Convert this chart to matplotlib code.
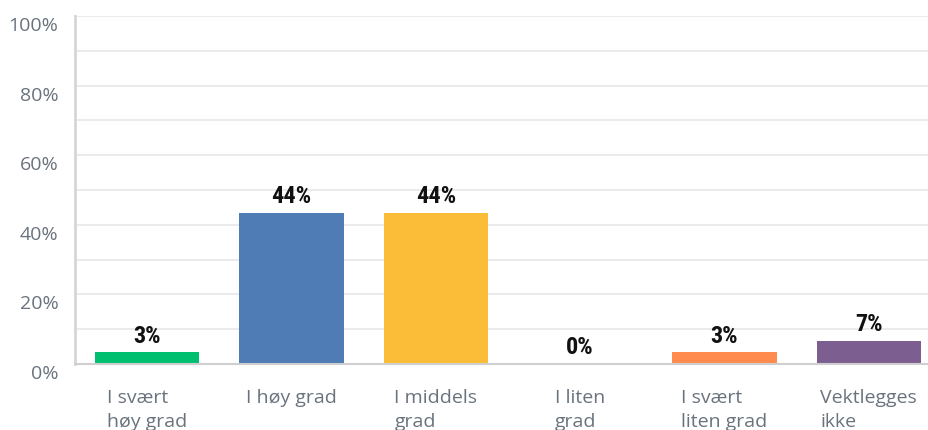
import matplotlib.pyplot as plt
import matplotlib.transforms as mtransforms

categories = ['I svært\nhøy grad', 'I høy grad', 'I middels\ngrad',
              'I liten\ngrad', 'I svært\nliten grad', 'Vektlegges\nikke']
values = [3.33, 43.33, 43.33, 0.0, 3.33, 6.67]
value_labels = ['3%', '44%', '44%', '0%', '3%', '7%']
colors = ['#00BF6F', '#507CB6', '#FBBD38', '#6BC8CD', '#FF8B4F', '#7D5E90']
yticks = [0, 20, 40, 60, 80, 100]

fig = plt.figure(figsize=(9.29, 4.30), dpi=100)
ax = fig.add_axes([75 / 929, 66 / 430, 854 / 929, 348 / 430])

x = list(range(len(categories)))
bars = ax.bar(x, values, width=0.722, color=colors, zorder=3)

# value labels above each bar
for xi, v, lab in zip(x, values, value_labels):
    ax.annotate(lab, (xi, v), xytext=(0, 3.5), textcoords='offset points',
                ha='center', va='bottom', fontsize=17.5,
                family=['Roboto Condensed', 'Liberation Sans Narrow', 'Roboto'],
                fontstretch='condensed', fontweight='bold', color='#111111')

ax.set_xlim(-0.5, 5.417)
ax.set_ylim(0, 100)

# light grid every 10%
for g in range(10, 101, 10):
    ax.axhline(g, color='#e9e9e9', lw=1.3, zorder=1)

ax.set_yticks(yticks)
ax.set_yticklabels([f'{t}%' for t in yticks], fontsize=14, color='#6a737d',
                   family=['Open Sans', 'DejaVu Sans'])
ax.tick_params(axis='y', length=0, pad=12)
offset = mtransforms.ScaledTranslation(0, -8 / 100, fig.dpi_scale_trans)
for lbl in ax.get_yticklabels():
    lbl.set_transform(lbl.get_transform() + offset)

ax.set_xticks(x)
ax.set_xticklabels(categories, fontsize=14, color='#6a737d',
                   family=['Open Sans', 'DejaVu Sans'], linespacing=1.42,
                   multialignment='left', va='top')
ax.tick_params(axis='x', length=0, pad=18)

for side in ['top', 'right']:
    ax.spines[side].set_visible(False)
ax.spines['left'].set_color('#d6d6d6')
ax.spines['left'].set_linewidth(2)
ax.spines['bottom'].set_color('#cfcfcf')
ax.spines['bottom'].set_linewidth(1.5)
ax.spines['bottom'].set_zorder(4)

fig.savefig('out.png', dpi=100)
